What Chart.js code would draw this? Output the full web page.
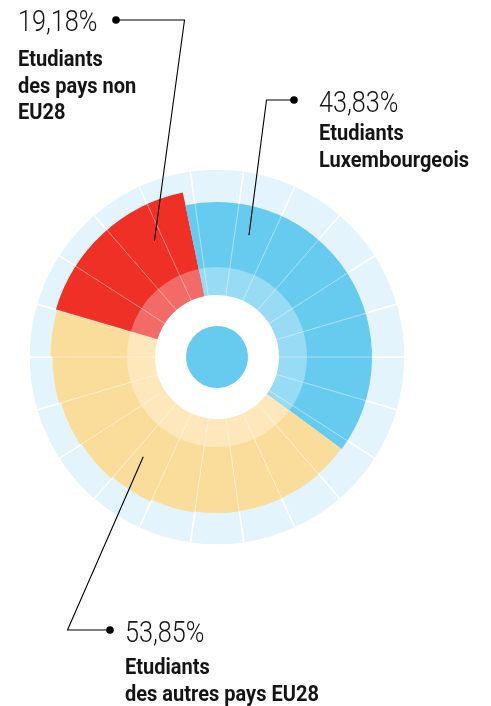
<!DOCTYPE html>
<html>
<head>
<meta charset="utf-8">
<script src="https://cdn.jsdelivr.net/npm/chart.js@4"></script>
<style>
  html, body { margin: 0; padding: 0; background: #ffffff; }
  #wrap { position: relative; width: 491px; height: 706px; overflow: hidden; }
  #wrap canvas { position: absolute; left: 0; top: 0; }
  .t { position: absolute; white-space: nowrap; color: #141414; transform-origin: 0 0; }
  .pct { font-family: Roboto, "Liberation Sans", sans-serif; font-weight: 300; font-size: 29px; line-height: 29px; transform: scaleX(0.87); }
  .name { font-family: Roboto, "Liberation Sans", sans-serif; font-weight: 700; font-size: 22.5px; line-height: 26.5px; transform: scaleX(0.89); }
</style>
</head>
<body>
<div id="wrap">
  <canvas id="c" width="491" height="706"></canvas>
  <div class="t pct" style="left:18px; top:7px;">19,18%</div>
  <div class="t name" style="left:18px; top:45px;">Etudiants<br>des pays non<br>EU28</div>
  <div class="t pct" style="left:319px; top:88px;">43,83%</div>
  <div class="t name" style="left:319px; top:119px;">Etudiants<br>Luxembourgeois</div>
  <div class="t pct" style="left:125px; top:618px;">53,85%</div>
  <div class="t name" style="left:125px; top:653px;">Etudiants<br>des autres pays EU28</div>
</div>
<script>
// ---- data ----
const categories = ['Etudiants des pays non EU28', 'Etudiants Luxembourgeois', 'Etudiants des autres pays EU28'];
const shareLabels = ['19,18%', '43,83%', '53,85%'];
const shares = [19.18, 43.83, 53.85];

// angular extent (degrees) of each category, clockwise from red start
const categorySweep = [61.9, 138.2, 159.9];
// inner (light) ring radius per category
const innerRingValue = [90, 90, 90];

// outer coloured ring: pieces (category index, sweep in degrees, radius value)
const outerPieceCategory = [0, 1, 2, 2, 2, 2, 2, 2, 2, 2, 2, 2];
const outerPieceSweep = [61.9, 138.2, 12.63, 16.36, 16.36, 16.36, 16.36, 16.36, 16.36, 16.36, 16.36, 16.37];
const outerPieceValue = [168, 155, 154.5, 155, 155.5, 156, 157, 159, 161, 162.5, 164.5, 166.5];

// background grid ring: 22 equal sectors
const gridValue = [188, 188, 188, 188, 188, 188, 188, 188, 188, 188, 188, 188, 188, 188, 188, 188, 188, 188, 188, 188, 188, 188];

const holeValue = [62];
const dotValue = [31];
const scaleMax = 188;
const startAngleDeg = -73.64;

// callout anchors inside the segments: angle (deg, clockwise from top) and radial value
const calloutAnchorAngle = [331.7, 14.7, 216.5];
const calloutAnchorValue = [132, 126, 124];
// label dot and elbow positions (page pixels)
const calloutDot = [[116, 20], [294, 100], [110, 630]];
const calloutElbow = [[184.5, 20], [266.5, 100], [67.5, 630]];

// ---- styles ----
const strongColors = ['#ee3026', '#67cbef', '#fbdd9b'];
const lightColors = ['#f36b66', '#97dbf4', '#fde7bb'];
const gridColor = '#e4f4fc';

const calloutPlugin = {
  id: 'callouts',
  afterDatasetsDraw(chart) {
    const s = chart.scales.r;
    const ctx = chart.ctx;
    ctx.save();
    ctx.strokeStyle = '#000';
    ctx.fillStyle = '#000';
    ctx.lineWidth = 1.1;
    for (let i = 0; i < calloutAnchorAngle.length; i++) {
      const a = calloutAnchorAngle[i] * Math.PI / 180;
      const d = s.getDistanceFromCenterForValue(calloutAnchorValue[i]);
      const ax = s.xCenter + Math.sin(a) * d;
      const ay = s.yCenter - Math.cos(a) * d;
      ctx.beginPath();
      ctx.moveTo(calloutDot[i][0], calloutDot[i][1]);
      ctx.lineTo(calloutElbow[i][0], calloutElbow[i][1]);
      ctx.lineTo(ax, ay);
      ctx.stroke();
      ctx.beginPath();
      ctx.arc(calloutDot[i][0], calloutDot[i][1], 3.8, 0, Math.PI * 2);
      ctx.fill();
    }
    ctx.restore();
  }
};

const byIndex = (arr) => (c) => arr[c.dataIndex];

new Chart(document.getElementById('c'), {
  type: 'polarArea',
  data: {
    labels: gridValue.map((v, i) => 'S' + (i + 1)),
    datasets: [
      { label: 'centre', data: dotValue, angle: 360, backgroundColor: strongColors[1], borderWidth: 0 },
      { label: 'hole', data: holeValue, angle: 360, backgroundColor: '#ffffff', borderWidth: 0 },
      { label: 'spokes', data: gridValue, backgroundColor: 'rgba(255,255,255,0)', borderColor: 'rgba(255,255,255,0.24)', borderWidth: 1 },
      { label: 'inner', data: innerRingValue, angle: byIndex(categorySweep),
        backgroundColor: byIndex(lightColors), borderWidth: 0 },
      { label: 'outer', data: outerPieceValue, angle: byIndex(outerPieceSweep),
        backgroundColor: (c) => strongColors[outerPieceCategory[c.dataIndex]], borderWidth: 0 },
      { label: 'grid', data: gridValue, backgroundColor: gridColor, borderColor: '#ffffff', borderWidth: 1.4 }
    ]
  },
  options: {
    responsive: false,
    animation: false,
    layout: { padding: { left: 29, right: 86, top: 169, bottom: 161 } },
    plugins: { legend: { display: false }, tooltip: { enabled: false } },
    scales: {
      r: { type: 'radialLinear', display: false, min: 0, max: scaleMax, startAngle: startAngleDeg,
           pointLabels: { display: false }, ticks: { display: false } }
    }
  },
  plugins: [calloutPlugin]
});
</script>
</body>
</html>
